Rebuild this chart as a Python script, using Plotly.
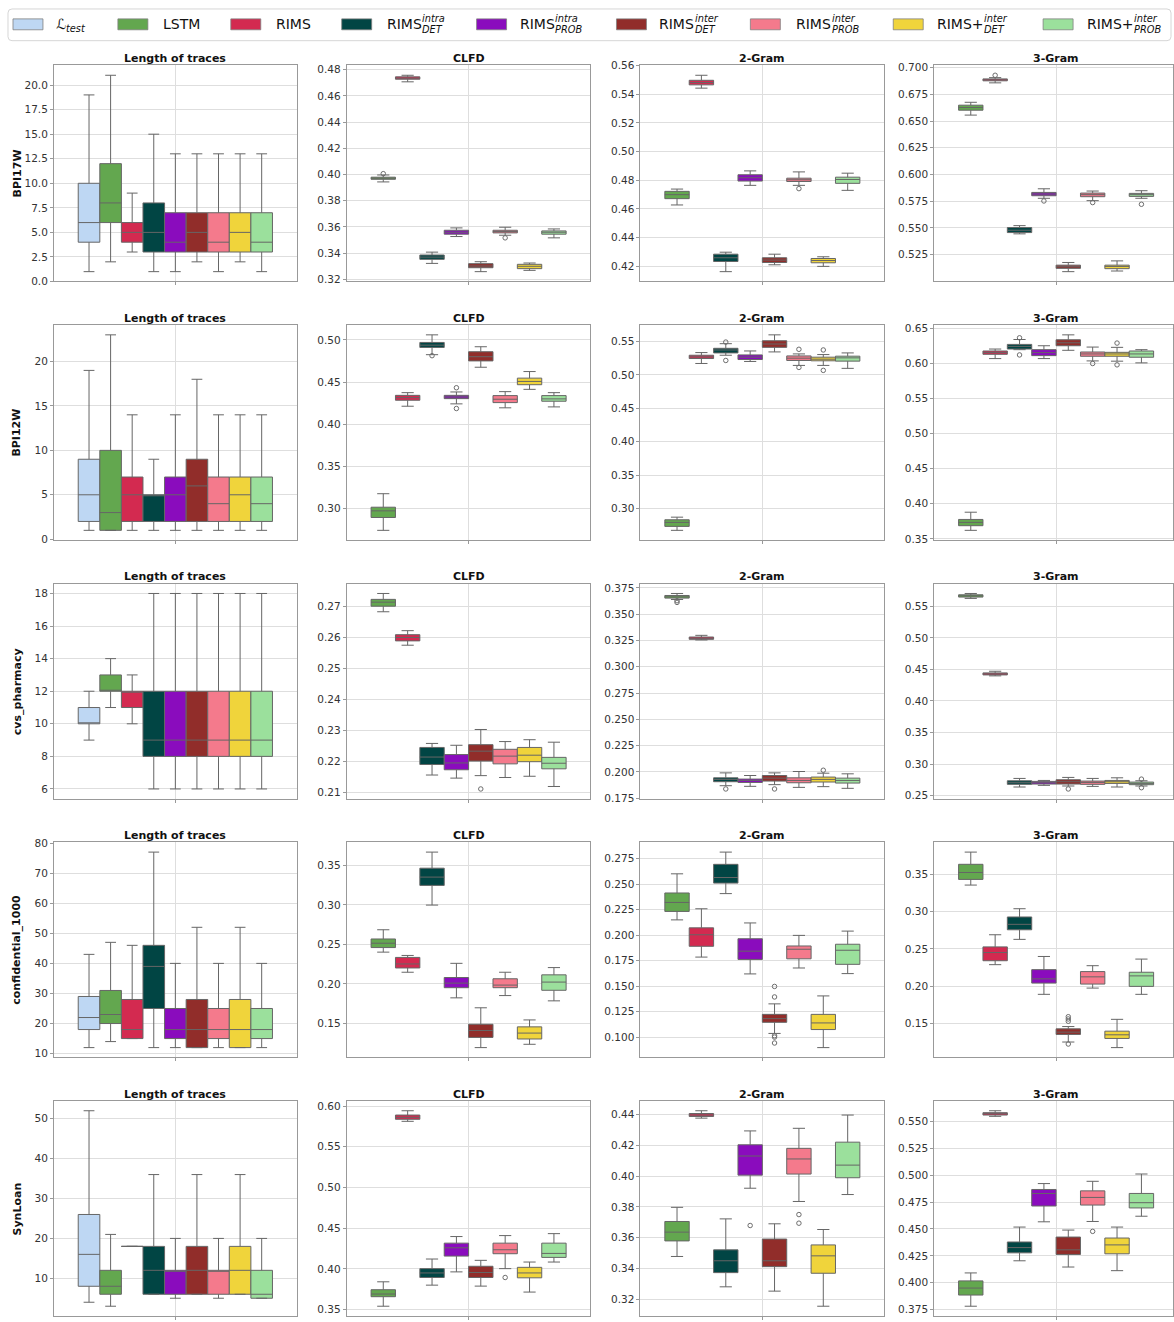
import plotly.graph_objects as go

W, H = 1174, 1322

MODELS = ["L_test", "LSTM", "RIMS", "RIMS_intra_DET", "RIMS_intra_PROB",
          "RIMS_inter_DET", "RIMS_inter_PROB", "RIMS+_inter_DET", "RIMS+_inter_PROB"]
COLORS = ["#bed7f3", "#63a74f", "#d32a50", "#014544", "#8a0cbd",
          "#912d2a", "#f47a8c", "#f0d43b", "#9be09c"]
DATASETS = ["BPI17W", "BPI12W", "cvs_pharmacy", "confidential_1000", "SynLoan"]
METRICS = ["Length of traces", "CLFD", "2-Gram", "3-Gram"]

# Box summaries per model, in MODELS order:
# (lower whisker, q1, median, q3, upper whisker); None = model not evaluated

# ---------------- BPI17W ----------------
BPI17W_LENGTH = [(1, 4, 6, 10, 19), (2, 6, 8, 12, 21), (3, 4, 5, 6, 9), (1, 3, 5, 8, 15),
                 (1, 3, 4, 7, 13), (2, 3, 5, 7, 13), (1, 3, 4, 7, 13), (2, 3, 5, 7, 13),
                 (1, 3, 4, 7, 13)]
BPI17W_CLFD = [None,
               (0.3943, 0.3963, 0.3971, 0.3979, 0.3996), (0.4707, 0.4727, 0.4734, 0.4745, 0.4757),
               (0.3321, 0.3352, 0.3369, 0.3385, 0.3407), (0.3526, 0.3544, 0.3559, 0.3574, 0.3592),
               (0.3258, 0.3288, 0.3301, 0.3319, 0.3334), (0.3536, 0.3554, 0.3564, 0.3574, 0.3597),
               (0.3268, 0.3281, 0.3299, 0.3314, 0.3324), (0.3516, 0.3544, 0.3559, 0.3569, 0.3584)]
BPI17W_CLFD_OUT = {"LSTM": [0.4006], "RIMS_inter_PROB": [0.3516]}
BPI17W_2GRAM = [None,
                (0.4627, 0.4671, 0.4699, 0.4722, 0.4738), (0.5443, 0.5466, 0.5482, 0.5498, 0.5533),
                (0.4161, 0.4232, 0.4258, 0.4283, 0.4297), (0.4764, 0.4794, 0.4817, 0.4838, 0.4865),
                (0.4209, 0.4225, 0.4242, 0.4258, 0.4283), (0.4764, 0.4791, 0.4803, 0.4814, 0.4858),
                (0.4198, 0.4223, 0.4239, 0.4253, 0.4265), (0.4729, 0.4778, 0.4805, 0.4821, 0.4849)]
BPI17W_2GRAM_OUT = {"RIMS_inter_PROB": [0.4741]}
BPI17W_3GRAM = [None,
                (0.6556, 0.6602, 0.6627, 0.6649, 0.6676), (0.6858, 0.6877, 0.6886, 0.6895, 0.6907),
                (0.5444, 0.5456, 0.5478, 0.5503, 0.5521), (0.5777, 0.5801, 0.5817, 0.5832, 0.5866),
                (0.5090, 0.5121, 0.5136, 0.5151, 0.5176), (0.5755, 0.5792, 0.5811, 0.5826, 0.5845),
                (0.5096, 0.5118, 0.5139, 0.5151, 0.5191), (0.5777, 0.5795, 0.5811, 0.5823, 0.5848)]
BPI17W_3GRAM_OUT = {"RIMS": [0.6929], "RIMS_intra_PROB": [0.5752],
                    "RIMS_inter_PROB": [0.5737], "RIMS+_inter_PROB": [0.5721]}

# ---------------- BPI12W ----------------
BPI12W_LENGTH = [(1, 2, 5, 9, 19), (1, 1, 3, 10, 23), (1, 2, 5, 7, 14), (1, 2, 5, 5, 9),
                 (1, 2, 5, 7, 14), (1, 2, 6, 9, 18), (1, 2, 4, 7, 14), (1, 2, 5, 7, 14),
                 (1, 2, 4, 7, 14)]
BPI12W_CLFD = [None,
               (0.2742, 0.2894, 0.2973, 0.3016, 0.3176), (0.4213, 0.4284, 0.4315, 0.4342, 0.4374),
               (0.4824, 0.4910, 0.4937, 0.4969, 0.5059), (0.4241, 0.4303, 0.4323, 0.4342, 0.4382),
               (0.4675, 0.4750, 0.4800, 0.4859, 0.4918), (0.4194, 0.4256, 0.4296, 0.4339, 0.4386),
               (0.4413, 0.4468, 0.4507, 0.4546, 0.4624), (0.4205, 0.4272, 0.4300, 0.4339, 0.4374)]
BPI12W_CLFD_OUT = {"RIMS_intra_DET": [0.4812], "RIMS_intra_PROB": [0.4432, 0.4186]}
BPI12W_2GRAM = [None,
                (0.2675, 0.2734, 0.2793, 0.2833, 0.2872), (0.5170, 0.5244, 0.5269, 0.5293, 0.5333),
                (0.5293, 0.5328, 0.5372, 0.5397, 0.5466), (0.5200, 0.5229, 0.5264, 0.5298, 0.5357),
                (0.5343, 0.5411, 0.5461, 0.5510, 0.5598), (0.5141, 0.5215, 0.5249, 0.5283, 0.5313),
                (0.5141, 0.5210, 0.5234, 0.5264, 0.5303), (0.5097, 0.5205, 0.5254, 0.5279, 0.5328)]
BPI12W_2GRAM_OUT = {"RIMS_intra_DET": [0.5490, 0.5215], "RIMS_inter_PROB": [0.5382, 0.5111],
                    "RIMS+_inter_DET": [0.5372, 0.5067]}
BPI12W_3GRAM = [None,
                (0.3622, 0.3688, 0.3735, 0.3777, 0.3880), (0.6068, 0.6129, 0.6153, 0.6176, 0.6204),
                (0.6195, 0.6204, 0.6242, 0.6270, 0.6340), (0.6068, 0.6110, 0.6153, 0.6195, 0.6251),
                (0.6186, 0.6251, 0.6293, 0.6336, 0.6406), (0.6035, 0.6101, 0.6134, 0.6162, 0.6232),
                (0.6031, 0.6101, 0.6134, 0.6157, 0.6228), (0.6007, 0.6087, 0.6134, 0.6176, 0.6195)]
BPI12W_3GRAM_OUT = {"RIMS_intra_DET": [0.6364, 0.6120], "RIMS_inter_PROB": [0.5998],
                    "RIMS+_inter_DET": [0.6289, 0.5979]}

# ---------------- cvs_pharmacy ----------------
CVS_LENGTH = [(9, 10, 10, 11, 12), (11, 12, 12, 13, 14), (10, 11, 12, 12, 13),
              (6, 8, 9, 12, 18), (6, 8, 9, 12, 18), (6, 8, 9, 12, 18),
              (6, 8, 9, 12, 18), (6, 8, 9, 12, 18), (6, 8, 9, 12, 18)]
CVS_CLFD = [None,
            (0.2684, 0.2702, 0.2715, 0.2724, 0.2743), (0.2576, 0.2590, 0.2601, 0.2610, 0.2623),
            (0.2157, 0.2191, 0.2215, 0.2246, 0.2259), (0.2147, 0.2174, 0.2196, 0.2223, 0.2253),
            (0.2155, 0.2202, 0.2234, 0.2255, 0.2304), (0.2149, 0.2193, 0.2218, 0.2240, 0.2265),
            (0.2153, 0.2200, 0.2221, 0.2246, 0.2271), (0.2120, 0.2177, 0.2195, 0.2214, 0.2263)]
CVS_CLFD_OUT = {"RIMS_inter_DET": [0.2112]}
CVS_2GRAM = [None,
             (0.3640, 0.3653, 0.3665, 0.3678, 0.3697), (0.3255, 0.3261, 0.3270, 0.3283, 0.3299),
             (0.1869, 0.1907, 0.1929, 0.1944, 0.1991), (0.1863, 0.1900, 0.1919, 0.1932, 0.1966),
             (0.1879, 0.1913, 0.1941, 0.1966, 0.1991), (0.1853, 0.1897, 0.1919, 0.1944, 0.2004),
             (0.1860, 0.1904, 0.1929, 0.1951, 0.1988), (0.1844, 0.1894, 0.1919, 0.1941, 0.1982)]
CVS_2GRAM_OUT = {"LSTM": [0.3628, 0.3612], "RIMS_intra_DET": [0.1838],
                 "RIMS_inter_DET": [0.1838], "RIMS+_inter_DET": [0.2016]}
CVS_3GRAM = [None,
             (0.5626, 0.5647, 0.5668, 0.5683, 0.5704), (0.4398, 0.4413, 0.4429, 0.4445, 0.4471),
             (0.2636, 0.2678, 0.2704, 0.2735, 0.2772), (0.2662, 0.2683, 0.2704, 0.2725, 0.2740),
             (0.2652, 0.2683, 0.2720, 0.2751, 0.2788), (0.2646, 0.2678, 0.2709, 0.2730, 0.2772),
             (0.2636, 0.2693, 0.2720, 0.2740, 0.2782), (0.2652, 0.2673, 0.2693, 0.2714, 0.2735)]
CVS_3GRAM_OUT = {"RIMS_inter_DET": [0.2605], "RIMS+_inter_PROB": [0.2761, 0.2625]}

# ---------------- confidential_1000 ----------------
CONF_LENGTH = [(12, 18, 22, 29, 43), (14, 20, 23, 31, 47), (15, 15, 18, 28, 46),
               (12, 25, 39, 46, 77), (12, 15, 18, 25, 40), (12, 12, 18, 28, 52),
               (12, 15, 18, 25, 40), (12, 12, 18, 28, 52), (12, 15, 18, 25, 40)]
CONF_CLFD = [None,
             (0.2402, 0.2460, 0.2515, 0.2569, 0.2686), (0.2147, 0.2201, 0.2252, 0.2335, 0.2360),
             (0.2999, 0.3249, 0.3354, 0.3467, 0.3671), (0.1822, 0.1951, 0.2009, 0.2080, 0.2260),
             (0.1191, 0.1320, 0.1408, 0.1487, 0.1696), (0.1851, 0.1951, 0.1984, 0.2064, 0.2147),
             (0.1233, 0.1300, 0.1375, 0.1454, 0.1542), (0.1784, 0.1918, 0.2022, 0.2114, 0.2206)]
CONF_CLFD_OUT = {}
CONF_2GRAM = [None,
              (0.2150, 0.2233, 0.2321, 0.2414, 0.2602), (0.1785, 0.1891, 0.2004, 0.2072, 0.2259),
              (0.2408, 0.2511, 0.2566, 0.2695, 0.2815), (0.1620, 0.1762, 0.1843, 0.1965, 0.2120),
              (0.1036, 0.1145, 0.1181, 0.1223, 0.1326), (0.1678, 0.1768, 0.1862, 0.1894, 0.1998),
              (0.0897, 0.1074, 0.1139, 0.1223, 0.1404), (0.1623, 0.1714, 0.1852, 0.1911, 0.2040)]
CONF_2GRAM_OUT = {"RIMS_inter_DET": [0.1497, 0.1394, 0.1013, 0.1000, 0.0942]}
CONF_3GRAM = [None,
              (0.3358, 0.3434, 0.3527, 0.3637, 0.3801), (0.2288, 0.2341, 0.2451, 0.2527, 0.2690),
              (0.2628, 0.2757, 0.2830, 0.2929, 0.3040), (0.1889, 0.2040, 0.2097, 0.2221, 0.2398),
              (0.1248, 0.1350, 0.1381, 0.1425, 0.1456), (0.1973, 0.2027, 0.2124, 0.2195, 0.2274),
              (0.1173, 0.1296, 0.1345, 0.1394, 0.1553), (0.1889, 0.1996, 0.2137, 0.2186, 0.2363)]
CONF_3GRAM_OUT = {"RIMS_inter_DET": [0.1588, 0.1558, 0.1527, 0.1221]}

# ---------------- SynLoan ----------------
SYN_LENGTH = [(4, 8, 16, 26, 52), (3, 6, 8, 12, 21), (18, 18, 18, 18, 18),
              (6, 6, 12, 18, 36), (5, 6, 12, 12, 20), (6, 6, 12, 18, 36),
              (5, 6, 12, 12, 20), (6, 6, 12, 18, 36), (5, 5, 6, 12, 20)]
SYN_CLFD = [None,
            (0.3541, 0.3658, 0.3691, 0.3744, 0.3841), (0.5813, 0.5838, 0.5862, 0.5890, 0.5943),
            (0.3800, 0.3894, 0.3950, 0.4003, 0.4121), (0.3963, 0.4157, 0.4259, 0.4316, 0.4397),
            (0.3788, 0.3894, 0.3955, 0.4032, 0.4105), (0.4003, 0.4186, 0.4235, 0.4316, 0.4409),
            (0.3715, 0.3890, 0.3950, 0.4019, 0.4084), (0.4084, 0.4141, 0.4190, 0.4316, 0.4433)]
SYN_CLFD_OUT = {"RIMS_inter_PROB": [0.3894]}
SYN_2GRAM = [None,
             (0.3478, 0.3579, 0.3636, 0.3705, 0.3797), (0.4376, 0.4387, 0.4396, 0.4406, 0.4424),
             (0.3281, 0.3373, 0.3450, 0.3521, 0.3722), (0.3921, 0.4006, 0.4130, 0.4203, 0.4293),
             (0.3253, 0.3412, 0.3450, 0.3591, 0.3690), (0.3835, 0.4013, 0.4111, 0.4180, 0.4310),
             (0.3155, 0.3369, 0.3482, 0.3553, 0.3653), (0.3880, 0.3989, 0.4071, 0.4220, 0.4396)]
SYN_2GRAM_OUT = {"RIMS_intra_PROB": [0.3679], "RIMS_inter_PROB": [0.3750, 0.3694]}
SYN_3GRAM = [None,
             (0.3781, 0.3885, 0.3950, 0.4017, 0.4091), (0.5549, 0.5561, 0.5574, 0.5583, 0.5601),
             (0.4204, 0.4278, 0.4327, 0.4379, 0.4518), (0.4567, 0.4714, 0.4831, 0.4868, 0.4923),
             (0.4146, 0.4263, 0.4306, 0.4425, 0.4490), (0.4570, 0.4723, 0.4794, 0.4855, 0.4944),
             (0.4112, 0.4269, 0.4352, 0.4416, 0.4518), (0.4619, 0.4696, 0.4745, 0.4831, 0.5012)]
SYN_3GRAM_OUT = {"RIMS_inter_PROB": [0.4478]}

# y tick labels per panel: (first, last, step, format)
TICKS = [
    [(0, 20, 2.5, ".1f"), (0.32, 0.48, 0.02, ".2f"), (0.42, 0.56, 0.02, ".2f"), (0.525, 0.700, 0.025, ".3f")],
    [(0, 20, 5, ".0f"), (0.30, 0.50, 0.05, ".2f"), (0.30, 0.55, 0.05, ".2f"), (0.35, 0.65, 0.05, ".2f")],
    [(6, 18, 2, ".0f"), (0.21, 0.27, 0.01, ".2f"), (0.175, 0.375, 0.025, ".3f"), (0.25, 0.55, 0.05, ".2f")],
    [(10, 80, 10, ".0f"), (0.15, 0.35, 0.05, ".2f"), (0.100, 0.275, 0.025, ".3f"), (0.15, 0.35, 0.05, ".2f")],
    [(10, 50, 10, ".0f"), (0.35, 0.60, 0.05, ".2f"), (0.32, 0.44, 0.02, ".2f"), (0.375, 0.550, 0.025, ".3f")],
]

PANELS = [
    [(BPI17W_LENGTH, {}), (BPI17W_CLFD, BPI17W_CLFD_OUT), (BPI17W_2GRAM, BPI17W_2GRAM_OUT), (BPI17W_3GRAM, BPI17W_3GRAM_OUT)],
    [(BPI12W_LENGTH, {}), (BPI12W_CLFD, BPI12W_CLFD_OUT), (BPI12W_2GRAM, BPI12W_2GRAM_OUT), (BPI12W_3GRAM, BPI12W_3GRAM_OUT)],
    [(CVS_LENGTH, {}), (CVS_CLFD, CVS_CLFD_OUT), (CVS_2GRAM, CVS_2GRAM_OUT), (CVS_3GRAM, CVS_3GRAM_OUT)],
    [(CONF_LENGTH, {}), (CONF_CLFD, CONF_CLFD_OUT), (CONF_2GRAM, CONF_2GRAM_OUT), (CONF_3GRAM, CONF_3GRAM_OUT)],
    [(SYN_LENGTH, {}), (SYN_CLFD, SYN_CLFD_OUT), (SYN_2GRAM, SYN_2GRAM_OUT), (SYN_3GRAM, SYN_3GRAM_OUT)],
]

# ---------------- geometry & style ----------------
FONT = "DejaVu Sans"
EDGE = "#666666"
GRID = "#dedede"
BORDER = "#999999"
TICKC = "#333333"

COL_X = [(54, 297), (347, 591), (641, 885), (935, 1179)]
ROW_Y = [(60, 278), (322, 539), (583, 800), (844, 1061), (1105, 1322)]


def fx(x):
    return x / W


def fy(y):
    return 1 - y / H


def tick_list(first, last, step, fmt):
    vals, v = [], first
    while v <= last + step * 1e-6:
        vals.append(round(v, 6))
        v += step
    return vals, [format(t, fmt) for t in vals]


fig = go.Figure()
layout = {}
annotations = []
shapes = []

for r, ds in enumerate(DATASETS):
    for c, metric in enumerate(METRICS):
        idx = r * 4 + c + 1
        sfx = "" if idx == 1 else str(idx)
        xref, yref = "x" + sfx, "y" + sfx
        stats, outl = PANELS[r][c]
        present = [i for i, s in enumerate(stats) if s is not None]
        n = len(present)
        bw = 0.8 / n

        allv = []
        for k, i in enumerate(present):
            pos = -0.4 + bw / 2 + k * bw
            lo, q1, med, q3, hi = stats[i]
            allv += [lo, hi]
            fig.add_trace(go.Box(
                x=[pos], lowerfence=[lo], q1=[q1], median=[med], q3=[q3], upperfence=[hi],
                width=bw, whiskerwidth=0.5, boxpoints=False,
                fillcolor=COLORS[i], line=dict(color=EDGE, width=1),
                name=MODELS[i], showlegend=False, xaxis=xref, yaxis=yref))
            if MODELS[i] in outl:
                ys = outl[MODELS[i]]
                allv += ys
                fig.add_trace(go.Scatter(
                    x=[pos] * len(ys), y=ys, mode="markers",
                    marker=dict(symbol="circle-open", size=4.5, color="#6d6d6d",
                                line=dict(width=1, color="#6d6d6d")),
                    showlegend=False, xaxis=xref, yaxis=yref, hoverinfo="y"))

        vmin, vmax = min(allv), max(allv)
        pad = 0.05 * (vmax - vmin)
        yr = [vmin - pad, vmax + pad]

        x0, x1 = COL_X[c]
        xr_end = 0.5
        if x1 > W:
            xr_end = -0.5 + (W - x0) / (x1 - x0)
            x1 = W
        y0, y1 = ROW_Y[r]
        tv, tt = tick_list(*TICKS[r][c])

        layout["xaxis" + sfx] = dict(
            domain=[fx(x0), fx(x1)], range=[-0.5, xr_end], anchor=yref,
            tickvals=[0], ticktext=[""], ticks="outside", ticklen=3, tickcolor=BORDER,
            showgrid=True, gridcolor=GRID, gridwidth=1.2, zeroline=False,
            showline=True, linecolor=BORDER, linewidth=1, mirror=True, fixedrange=True)
        layout["yaxis" + sfx] = dict(
            domain=[fy(y1), fy(y0)], range=yr, anchor=xref,
            tickvals=tv, ticktext=tt, ticks="outside", ticklen=3, tickcolor=BORDER,
            tickfont=dict(family=FONT, size=10.5, color=TICKC),
            showgrid=True, gridcolor=GRID, gridwidth=1.2, zeroline=False,
            showline=True, linecolor=BORDER, linewidth=1, mirror=True, fixedrange=True)

        # panel title
        cx = (COL_X[c][0] + COL_X[c][1]) / 2
        annotations.append(dict(
            text="<b>%s</b>" % metric, x=fx(cx), y=fy(y0 - 7), xref="paper", yref="paper",
            xanchor="center", yanchor="middle", showarrow=False,
            font=dict(family=FONT, size=11, color="#111111")))

    # dataset label on the left
    annotations.append(dict(
        text="<b>%s</b>" % ds, x=fx(17), y=fy((ROW_Y[r][0] + ROW_Y[r][1]) / 2),
        xref="paper", yref="paper", xanchor="center", yanchor="middle",
        textangle=-90, showarrow=False, font=dict(family=FONT, size=11, color="#111111")))

# ---------------- legend ----------------
LX0, LY0, LX1, LY1, RAD = 8, 3, 1172, 35, 4


def rounded_rect(x0, y0, x1, y1, rad):
    p = [
        "M %f,%f" % (fx(x0 + rad), fy(y0)),
        "L %f,%f" % (fx(x1 - rad), fy(y0)),
        "Q %f,%f %f,%f" % (fx(x1), fy(y0), fx(x1), fy(y0 + rad)),
        "L %f,%f" % (fx(x1), fy(y1 - rad)),
        "Q %f,%f %f,%f" % (fx(x1), fy(y1), fx(x1 - rad), fy(y1)),
        "L %f,%f" % (fx(x0 + rad), fy(y1)),
        "Q %f,%f %f,%f" % (fx(x0), fy(y1), fx(x0), fy(y1 - rad)),
        "L %f,%f" % (fx(x0), fy(y0 + rad)),
        "Q %f,%f %f,%f" % (fx(x0), fy(y0), fx(x0 + rad), fy(y0)),
        "Z",
    ]
    return " ".join(p)


shapes.append(dict(type="path", path=rounded_rect(LX0, LY0, LX1, LY1, RAD),
                   xref="paper", yref="paper", fillcolor="white",
                   line=dict(color="#d6d6d6", width=1), layer="above"))

LEGEND_LABELS = [("ℒ", None, "test"), ("LSTM", None, None), ("RIMS", None, None),
                 ("RIMS", "intra", "DET"), ("RIMS", "intra", "PROB"),
                 ("RIMS", "inter", "DET"), ("RIMS", "inter", "PROB"),
                 ("RIMS+", "inter", "DET"), ("RIMS+", "inter", "PROB")]
PATCH_X = [13, 118, 231, 342, 477, 617, 751, 894, 1044]
TEXT_X = [55, 162, 275, 386, 519, 659, 796, 937, 1087]
LEG_FS = 14
SCRIPT_FS = 9.8
CHAR_W = {"R": 0.695, "I": 0.295, "M": 0.863, "S": 0.635, "+": 0.838, "ℒ": 0.70}

for i, (base, sup, sub) in enumerate(LEGEND_LABELS):
    px0 = PATCH_X[i]
    shapes.append(dict(type="rect", xref="paper", yref="paper",
                       x0=fx(px0), x1=fx(px0 + 30), y0=fy(24), y1=fy(13),
                       fillcolor=COLORS[i], line=dict(color="#808080", width=0.8),
                       layer="above"))
    tx = TEXT_X[i]
    annotations.append(dict(text=base, x=fx(tx), y=fy(18.5), xref="paper", yref="paper",
                            xanchor="left", yanchor="middle", showarrow=False, borderpad=0,
                            font=dict(family=FONT, size=LEG_FS, color="#111111")))
    bw_px = sum(CHAR_W.get(ch, 0.6) for ch in base) * LEG_FS
    if sup:
        annotations.append(dict(text="<i>%s</i>" % sup, x=fx(tx + bw_px + 0.5), y=fy(12.5),
                                xref="paper", yref="paper", xanchor="left", yanchor="middle",
                                showarrow=False, borderpad=0,
                                font=dict(family=FONT, size=SCRIPT_FS, color="#111111")))
    if sub:
        annotations.append(dict(text="<i>%s</i>" % sub, x=fx(tx + bw_px + 0.5),
                                y=fy(23.5 if sup else 22.5),
                                xref="paper", yref="paper", xanchor="left", yanchor="middle",
                                showarrow=False, borderpad=0,
                                font=dict(family=FONT, size=SCRIPT_FS, color="#111111")))

fig.update_layout(
    width=W, height=H, autosize=False,
    margin=dict(l=0, r=0, t=0, b=0),
    paper_bgcolor="white", plot_bgcolor="white",
    boxmode="overlay", showlegend=False,
    font=dict(family=FONT, color=TICKC),
    annotations=annotations, shapes=shapes,
    **layout,
)

fig.write_html("out.html")
